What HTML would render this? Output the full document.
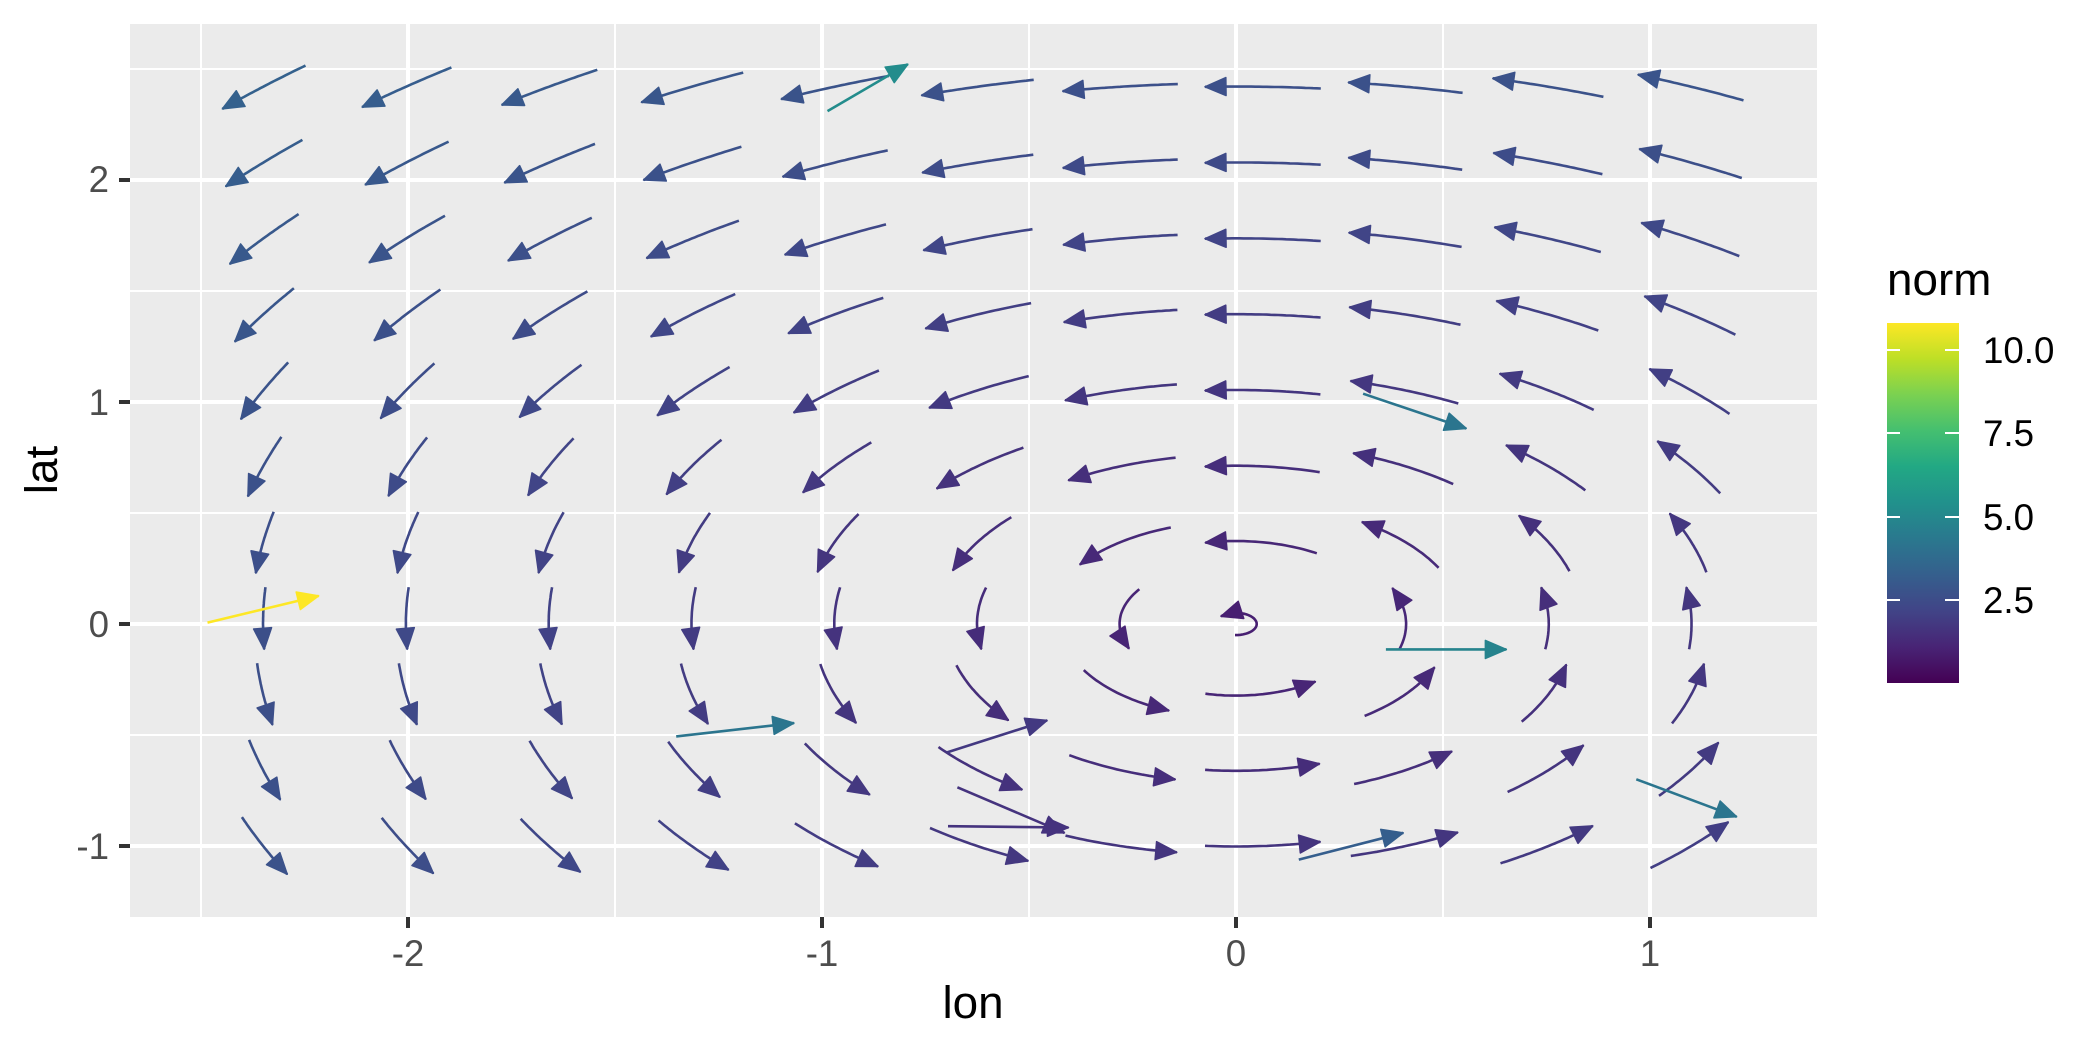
<!DOCTYPE html>
<html><head><meta charset="utf-8"><style>
html,body{margin:0;padding:0;background:#fff;}
svg{display:block;font-family:"Liberation Sans",sans-serif;}
</style></head><body>
<svg id="s" width="2100" height="1050" xmlns="http://www.w3.org/2000/svg">
<defs>
<linearGradient id="vg" x1="0" y1="1" x2="0" y2="0">
<stop offset="0" stop-color="#440154"/><stop offset="0.1" stop-color="#482475"/>
<stop offset="0.2" stop-color="#414487"/><stop offset="0.3" stop-color="#355f8d"/>
<stop offset="0.4" stop-color="#2a788e"/><stop offset="0.5" stop-color="#21918c"/>
<stop offset="0.6" stop-color="#22a884"/><stop offset="0.7" stop-color="#44bf70"/>
<stop offset="0.8" stop-color="#7ad151"/><stop offset="0.9" stop-color="#bddf26"/>
<stop offset="1" stop-color="#fde725"/>
</linearGradient>
</defs>
<rect x="130" y="24" width="1687" height="893" fill="#ebebeb"/>
<g id="grid"></g>
<g id="arrows"></g>
<g fill="#4d4d4d" font-size="36.7" text-anchor="end">
<text x="109" y="192">2</text>
<text x="109" y="415">1</text>
<text x="109" y="637">0</text>
<text x="109" y="859">-1</text>
</g>
<g fill="#4d4d4d" font-size="36.7" text-anchor="middle">
<text x="408" y="966">-2</text>
<text x="822" y="966">-1</text>
<text x="1236" y="966">0</text>
<text x="1650" y="966">1</text>
</g>
<g stroke="#333" stroke-width="4">
<line x1="119" y1="180" x2="130" y2="180"/><line x1="119" y1="402" x2="130" y2="402"/>
<line x1="119" y1="624" x2="130" y2="624"/><line x1="119" y1="846" x2="130" y2="846"/>
<line x1="408" y1="917" x2="408" y2="928"/><line x1="822" y1="917" x2="822" y2="928"/>
<line x1="1236" y1="917" x2="1236" y2="928"/><line x1="1650" y1="917" x2="1650" y2="928"/>
</g>
<text x="973" y="1018" font-size="45.8" text-anchor="middle" fill="#000">lon</text>
<text transform="translate(57,470) rotate(-90)" font-size="45.8" text-anchor="middle" fill="#000">lat</text>
<text x="1887" y="295" font-size="45.8" fill="#000">norm</text>
<rect x="1887" y="323" width="72" height="360" fill="url(#vg)"/>
<g stroke="#fff" stroke-width="2">
<line x1="1887" y1="350" x2="1900" y2="350"/><line x1="1945" y1="350" x2="1959" y2="350"/>
<line x1="1887" y1="433" x2="1900" y2="433"/><line x1="1945" y1="433" x2="1959" y2="433"/>
<line x1="1887" y1="517" x2="1900" y2="517"/><line x1="1945" y1="517" x2="1959" y2="517"/>
<line x1="1887" y1="600" x2="1900" y2="600"/><line x1="1945" y1="600" x2="1959" y2="600"/>
</g>
<g font-size="36.7" fill="#000">
<text x="1983" y="363">10.0</text>
<text x="1983" y="446">7.5</text>
<text x="1983" y="530">5.0</text>
<text x="1983" y="613">2.5</text>
</g>
</svg>
<script>
var NS="http://www.w3.org/2000/svg";
function X(l){return 1236+414*l;}
function Y(l){return 624-222*l;}
var g=document.getElementById('grid');
function ln(x1,y1,x2,y2,w){var e=document.createElementNS(NS,'line');e.setAttribute('x1',x1);e.setAttribute('y1',y1);e.setAttribute('x2',x2);e.setAttribute('y2',y2);e.setAttribute('stroke','#fff');e.setAttribute('stroke-width',w);g.appendChild(e);}
[-2.5,-1.5,-0.5,0.5].forEach(function(v){ln(X(v),24,X(v),917,2);});
[-0.5,0.5,1.5,2.5].forEach(function(v){ln(130,Y(v),1817,Y(v),2);});
[-2,-1,0,1].forEach(function(v){ln(X(v),24,X(v),917,4);});
[-1,0,1,2].forEach(function(v){ln(130,Y(v),1817,Y(v),4);});
var st=[[0,'#440154'],[0.1,'#482475'],[0.2,'#414487'],[0.3,'#355f8d'],[0.4,'#2a788e'],[0.5,'#21918c'],[0.6,'#22a884'],[0.7,'#44bf70'],[0.8,'#7ad151'],[0.9,'#bddf26'],[1,'#fde725']];
function hx(c){return [parseInt(c.substr(1,2),16),parseInt(c.substr(3,2),16),parseInt(c.substr(5,2),16)];}
function col(n){var t=Math.max(0,Math.min(1,n/10.8));for(var i=0;i<10;i++){if(t<=st[i+1][0]){var f=(t-st[i][0])/0.1,a=hx(st[i][1]),b=hx(st[i+1][1]);return 'rgb('+[0,1,2].map(function(k){return Math.round(a[k]+(b[k]-a[k])*f);}).join(',')+')';}}return '#fde725';}
var A=document.getElementById('arrows');
function draw(pts,c){
  var d='M'+pts.map(function(p){return p[0].toFixed(1)+','+p[1].toFixed(1);}).join(' L');
  var p=document.createElementNS(NS,'path');p.setAttribute('d',d);p.setAttribute('fill','none');p.setAttribute('stroke',c);p.setAttribute('stroke-width','2.6');A.appendChild(p);
  var e=pts[pts.length-1],k=pts.length-2,b=pts[k];
  while(k>0&&Math.hypot(e[0]-b[0],e[1]-b[1])<8){k--;b=pts[k];}
  var dx=e[0]-b[0],dy=e[1]-b[1],L=Math.hypot(dx,dy)||1;dx/=L;dy/=L;
  var hl=21,hw=9;
  var bx=e[0]-dx*hl,by=e[1]-dy*hl;
  var tri=document.createElementNS(NS,'polygon');
  tri.setAttribute('points',e[0]+','+e[1]+' '+(bx-dy*hw)+','+(by+dx*hw)+' '+(bx+dy*hw)+','+(by-dx*hw));
  tri.setAttribute('fill',c);tri.setAttribute('stroke',c);tri.setAttribute('stroke-width','1.5');tri.setAttribute('stroke-linejoin','round');A.appendChild(tri);
}
for(var i=0;i<11;i++){for(var j=0;j<11;j++){
  var lo=-2.35+0.345*i,la=2.42-0.342*j;
  var r=Math.hypot(lo,la),th=Math.atan2(la,lo);
  var s=0.28,ang=Math.min(s/Math.max(r,0.01),5.6);
  if(r<0.1){r=0.05;}
  var pts=[];
  for(var k=0;k<=30;k++){var a=th-ang/2+ang*k/30;pts.push([X(r*Math.cos(a)),Y(r*Math.sin(a))]);}
  draw(pts,col(0.9+0.72*r));
}}
var S=1.339;
[[155,465,238,445,10.8],[618,83,678,48,5.2],[1018,294,1095,320,4.2],[1035,485,1125,485,4.8],[505,550,593,540,4.2],[707,562,782,538,1.8],[715,588,795,622,1.6],[708,617,798,618,1.6],[1222,582,1297,610,4.2],[970,642,1048,622,3.2]].forEach(function(o){
  draw([[o[0]*S,o[1]*S],[o[2]*S,o[3]*S]],col(o[4]));
});
</script>
</body></html>
